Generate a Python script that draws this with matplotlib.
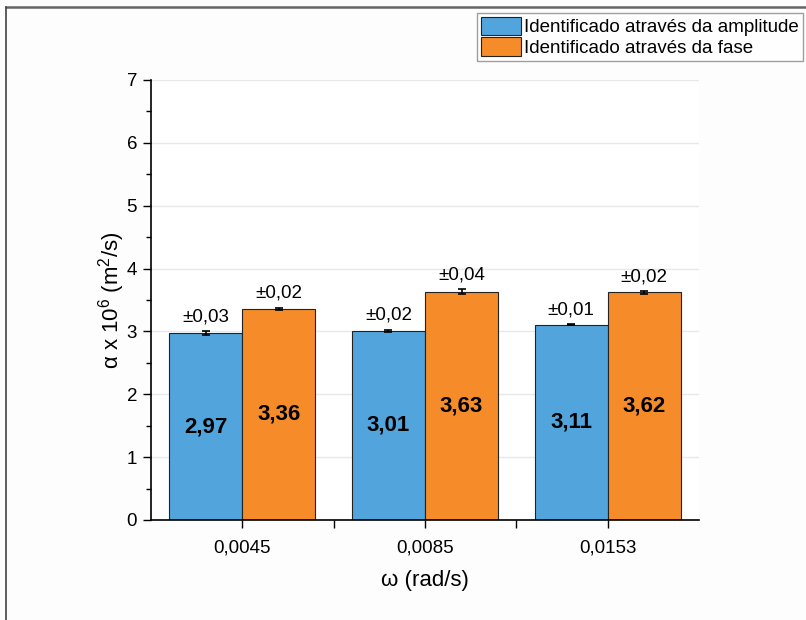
import numpy as np
import matplotlib.pyplot as plt
from matplotlib.lines import Line2D

plt.rcParams['font.family'] = ['Liberation Sans', 'DejaVu Sans']
plt.rcParams['mathtext.fontset'] = 'custom'
plt.rcParams['mathtext.rm'] = 'Liberation Sans'
plt.rcParams['mathtext.default'] = 'regular'

frequencies = ['0,0045', '0,0085', '0,0153']
amplitude = [2.97, 3.01, 3.11]
amplitude_err = [0.03, 0.02, 0.01]
phase = [3.36, 3.63, 3.62]
phase_err = [0.02, 0.04, 0.02]
series_names = ['Identificado através da amplitude', 'Identificado através da fase']

blue = '#52a5dc'
orange = '#f68b2a'

fig = plt.figure(figsize=(8.06, 6.2), dpi=100)
fig.patch.set_facecolor('#fdfdfd')
ax = fig.add_axes([0.1873, 0.1613, 0.680, 0.7097])
ax.set_facecolor('white')

x = np.arange(1, len(frequencies) + 1)
w = 0.4

def fmt(v):
    return f'{v:.2f}'.replace('.', ',')

for offset, vals, errs, color, name in [(-w / 2, amplitude, amplitude_err, blue, series_names[0]),
                                         (w / 2, phase, phase_err, orange, series_names[1])]:
    pos = x + offset
    ax.bar(pos, vals, width=w, color=color, edgecolor='#222222', linewidth=0.8,
           label=name, zorder=2)
    ax.errorbar(pos, vals, yerr=errs, fmt='none', ecolor='black', elinewidth=1.2,
                capsize=3, capthick=1.2, zorder=3)
    for p, v, e in zip(pos, vals, errs):
        ax.text(p, v / 2, fmt(v), ha='center', va='center', fontsize=16,
                fontweight='bold', zorder=4)
        ax.text(p, v + e + 0.09, '±' + fmt(e), ha='center', va='bottom', fontsize=13.5,
                zorder=4)

ax.set_xlim(0.5, 3.5)
ax.set_ylim(0, 7)
ax.set_xticks(x)
ax.set_xticklabels(frequencies, fontsize=13.5)
ax.set_xticks([1.5, 2.5], minor=True)
ax.set_yticks(range(0, 8))
ax.set_yticks(np.arange(0.5, 7, 1), minor=True)
ax.tick_params(axis='y', labelsize=13.5, length=6, width=1, direction='out', pad=4)
ax.tick_params(axis='y', which='minor', length=3.5, width=1)
ax.tick_params(axis='x', length=6, width=1, direction='out', pad=8)
ax.tick_params(axis='x', which='minor', length=6, width=1)
ax.grid(axis='y', color='#e8e8e8', linewidth=1, zorder=0)
ax.set_axisbelow(True)

for side in ['top', 'right']:
    ax.spines[side].set_visible(False)
ax.spines['left'].set_linewidth(1.2)
ax.spines['bottom'].set_linewidth(1.2)

ax.set_xlabel('ω (rad/s)', fontsize=16, labelpad=10)
ax.set_ylabel(r'α x 10$^{6}$ (m$^{2}$/s)', fontsize=16, labelpad=0)

leg = fig.legend(loc='upper right', bbox_to_anchor=(0.996, 0.979), fontsize=13.5,
                 frameon=True, fancybox=False, edgecolor='#888888', borderpad=0.2,
                 handlelength=2.1, handleheight=1.15, handletextpad=0.2, labelspacing=0.05,
                 borderaxespad=0)
leg.get_frame().set_linewidth(1)

# thin border along the top and left of the figure
fig.add_artist(Line2D([0.007, 1.0], [0.988, 0.988], transform=fig.transFigure,
                      color='#666666', linewidth=1.8))
fig.add_artist(Line2D([0.008, 0.008], [0.0, 0.988], transform=fig.transFigure,
                      color='#444444', linewidth=1.2))

fig.savefig('out.png', dpi=100, facecolor=fig.get_facecolor())
